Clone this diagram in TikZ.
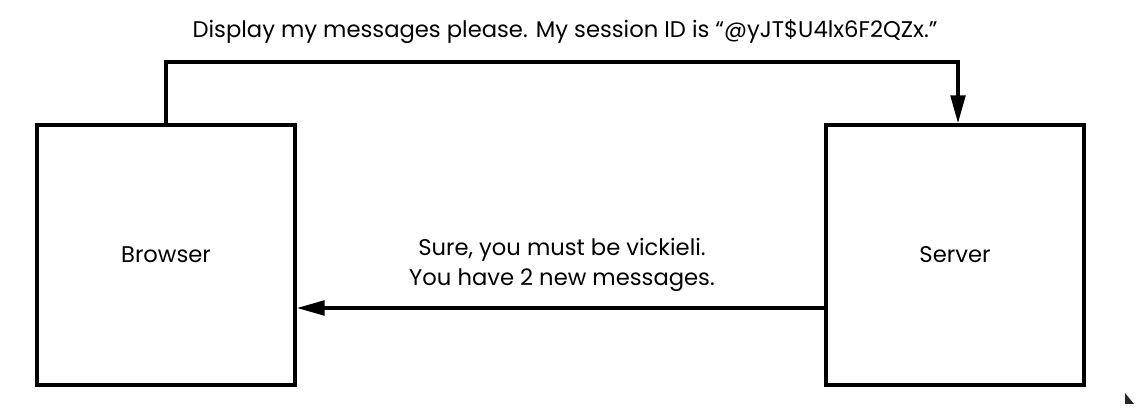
\documentclass[tikz,border=0pt]{standalone}
\usepackage{fontspec}
\setmainfont{Poppins}
\usetikzlibrary{arrows.meta}
\begin{document}
\begin{tikzpicture}[x=0.75pt,y=-0.75pt,
  boxstyle/.style={draw, line width=2.6pt, minimum width=193.5pt, minimum height=195pt, inner sep=0pt, font=\fontsize{17}{20}\selectfont},
  conn/.style={line width=2.6pt, -{Triangle[length=21pt,width=11pt]}},
  lbl/.style={font=\fontsize{17}{22.5}\selectfont, align=center, inner sep=0pt}]
\useasboundingbox (0,0) rectangle (1139,409);
\node[boxstyle] (browser) at (166,255) {Browser};
\node[boxstyle] (server) at (955,255) {Server};
\coordinate (c1) at (166,62);
\coordinate (c2) at (958,62);
\draw[conn] (browser.north) -- (c1) -- (c2) -- (c2 |- server.north);
\draw[conn] (server.west |- 0,308) coordinate (s1) -- (browser.east |- s1);
\node[lbl] (top) at (565,32) {Display my messages please. My session ID is “@yJT\$U4lx6F2QZx.”};
\node[lbl] (resp) at (562,265) {Sure, you must be vickieli.\\You have 2 new messages.};
\fill[black!85] (1125,393) -- (1134,404) -- (1125,404) -- cycle;
\end{tikzpicture}
\end{document}
